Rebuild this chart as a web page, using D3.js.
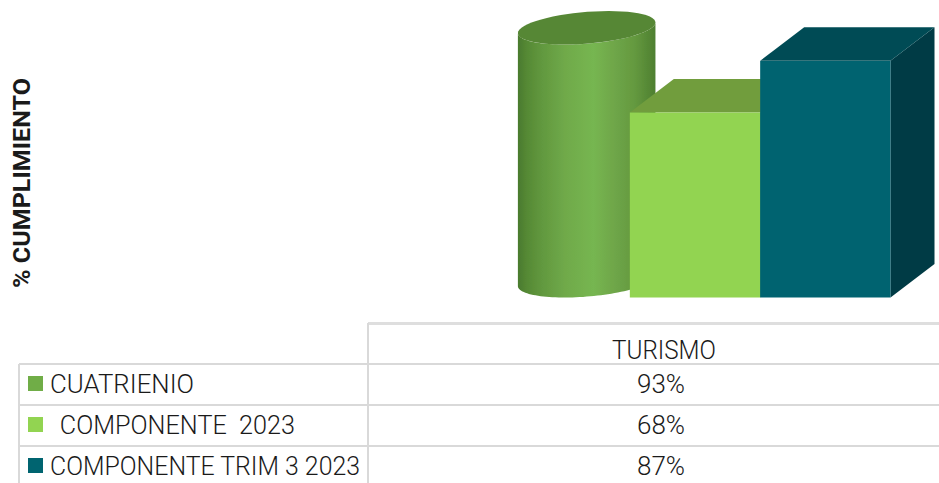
<!DOCTYPE html>
<html><head><meta charset="utf-8">
<script src="https://cdn.jsdelivr.net/npm/d3@7"></script>
<style>html,body{margin:0;padding:0;background:#fff}svg{display:block}text{font-family:Roboto,sans-serif;fill:#1a1a1a}</style>
</head><body><svg id="c" width="939" height="483"></svg>
<script>
const categories = ["CUATRIENIO", "COMPONENTE 2023", "COMPONENTE TRIM 3 2023"];
const legendLabels = ["CUATRIENIO", "\u00A0\u00A0COMPONENTE\u00A0\u00A02023", "COMPONENTE TRIM 3 2023"];
const values = [93, 68, 87];
const group = "TURISMO";
const yTitle = "% CUMPLIMIENTO";
const frontColors = ["#70ad47", "#92d451", "#006470"];
const topColors = ["#568735", "#719d3e", "#004c55"];
const sideColors = ["#4f8030", "#719d3e", "#003a44"];
const legendColors = ["#70ad47", "#92d451", "#006470"];

const svg = d3.select("#c");
const defs = svg.append("defs");
const grad = defs.append("linearGradient").attr("id", "cyl").attr("x1", 0).attr("x2", 1).attr("y1", 0).attr("y2", 0);
[[0,"#4a7a2e"],[0.07,"#568a35"],[0.18,"#62993f"],[0.35,"#70aa4a"],[0.55,"#76b651"],[0.68,"#70a84a"],[0.85,"#64993f"],[1,"#4e7f30"]]
  .forEach(([o,c]) => grad.append("stop").attr("offset", o).attr("stop-color", c));
const blur = defs.append("filter").attr("id", "soft").attr("x", "-5%").attr("y", "-5%").attr("width", "110%").attr("height", "110%");
blur.append("feGaussianBlur").attr("stdDeviation", 0.5);

const x = d3.scaleBand().domain(categories).range([499.5, 890.5]).padding(0);
const y = d3.scaleLinear().domain([0, 100]).range([297.5, 25.5]);
const depthX = 44, depthY = 33.5;
const chart = svg.append("g").attr("filter", "url(#soft)");

function ellipsePts(i, v, t0, t1) {
  const w = x.bandwidth();
  const cx = x(categories[i]) + w / 2 + depthX / 2;
  const cy = y(v) - depthY / 2;
  return d3.range(0, 61).map(k => {
    const t = t0 + (t1 - t0) * k / 60;
    return [cx + Math.cos(t) * w / 2 + Math.sin(t) * depthX / 2,
            cy - Math.sin(t) * depthY / 2];
  });
}
const line = d3.line();
categories.forEach((c, i) => {
  const v = values[i], x0 = x(c), w = x.bandwidth();
  const g = chart.append("g");
  if (i === 0) {
    const a = Math.atan2(depthX / 2, w / 2);
    const bottom = ellipsePts(i, 0, Math.PI + a, 2 * Math.PI + a);
    const top = ellipsePts(i, v, 2 * Math.PI + a, Math.PI + a);
    g.append("path").attr("d", line(bottom.concat(top)) + "Z").attr("fill", "url(#cyl)");
    g.append("path").attr("d", line(ellipsePts(i, v, 0, 2 * Math.PI)) + "Z").attr("fill", topColors[i]);
  } else {
    const yt = y(v), yb = y(0);
    g.append("polygon").attr("fill", sideColors[i])
      .attr("points", [[x0 + w, yt], [x0 + w + depthX, yt - depthY], [x0 + w + depthX, yb - depthY], [x0 + w, yb]].join(" "));
    g.append("polygon").attr("fill", topColors[i])
      .attr("points", [[x0, yt], [x0 + depthX, yt - depthY], [x0 + w + depthX, yt - depthY], [x0 + w, yt]].join(" "));
    g.append("rect").attr("x", x0).attr("y", yt).attr("width", w).attr("height", yb - yt).attr("fill", frontColors[i]);
  }
});

svg.append("text").attr("transform", "translate(30,288) rotate(-90)")
  .attr("font-size", 23).attr("font-weight", 700).attr("textLength", 210).attr("lengthAdjust", "spacingAndGlyphs").text(yTitle);

// data table
const grid = svg.append("g").attr("stroke", "#d9d9d9").attr("stroke-width", 2).attr("fill", "none");
const rowY = [364, 405, 446];
grid.append("path").attr("d", "M368,323.5H939").attr("stroke-width", 3).attr("stroke", "#dedede");
grid.append("path").attr("d", "M368,323V483");
grid.append("path").attr("d", "M19,364V483");
rowY.forEach(r => grid.append("path").attr("d", `M19,${r}H939`));

const tbl = svg.append("g").attr("font-size", 25).attr("font-weight", 300);
tbl.append("text").attr("x", 612).attr("y", 359).attr("textLength", 104).attr("lengthAdjust", "spacingAndGlyphs").text(group);
const legendX = [50, 47.5, 50], legendLen = [144, 247.5, 310];
const baselines = [393, 434, 475];
categories.forEach((c, i) => {
  tbl.append("rect").attr("x", 28).attr("y", 376 + i * 41).attr("width", 15).attr("height", 15).attr("fill", legendColors[i]);
  tbl.append("text").attr("x", legendX[i]).attr("y", baselines[i]).attr("xml:space", "preserve")
    .attr("textLength", legendLen[i]).attr("lengthAdjust", "spacingAndGlyphs").text(legendLabels[i]);
  tbl.append("text").attr("x", 637).attr("y", baselines[i]).attr("textLength", 48).attr("lengthAdjust", "spacingAndGlyphs").text(values[i] + "%");
});
</script></body></html>
